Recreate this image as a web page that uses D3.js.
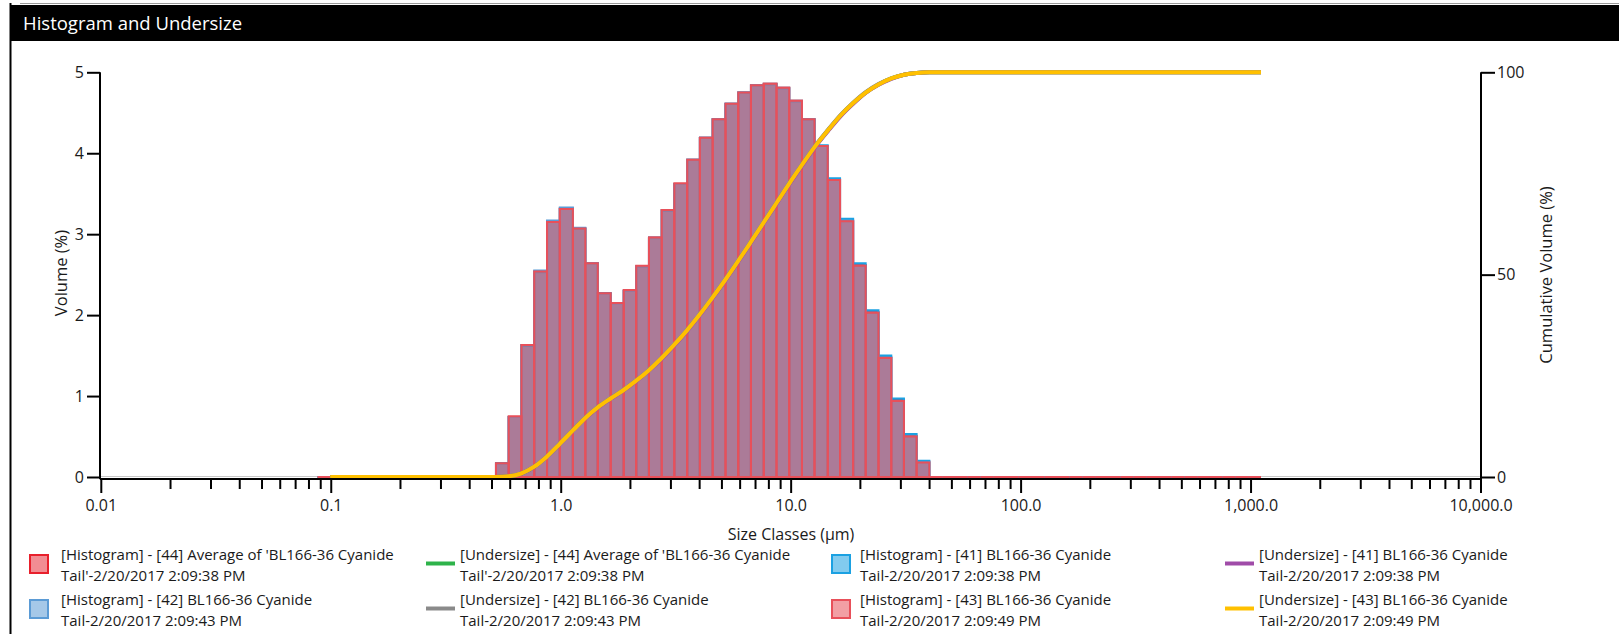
<!DOCTYPE html>
<html>
<head>
<meta charset="utf-8">
<script src="https://cdn.jsdelivr.net/npm/d3@7"></script>
<style>
  html, body { margin: 0; padding: 0; background: #fff; }
  svg { display: block; }
  text { font-family: "Segoe UI", "Open Sans", sans-serif; fill: #1a1a1a; }
</style>
</head>
<body>
<svg id="chart" width="1619" height="634"></svg>
<script>
// ---------------- DATA ----------------
const chartTitle = "Histogram and Undersize";
const xAxisTitle = "Size Classes (\u00b5m)";
const yLeftTitle = "Volume (%)";
const yRightTitle = "Cumulative Volume (%)";

// size class edges (\u00b5m)
const sizeClasses = [0.0876, 0.0995, 0.113, 0.128, 0.146, 0.166, 0.188, 0.214, 0.243, 0.276,
  0.314, 0.357, 0.405, 0.460, 0.523, 0.594, 0.675, 0.767, 0.872, 0.991,
  1.13, 1.28, 1.45, 1.65, 1.88, 2.13, 2.42, 2.75, 3.12, 3.55,
  4.03, 4.58, 5.21, 5.92, 6.72, 7.64, 8.68, 9.86, 11.2, 12.7,
  14.5, 16.4, 18.7, 21.2, 24.1, 27.4, 31.1, 35.3, 40.1, 45.6,
  51.8, 58.9, 66.9, 76.0, 86.4, 98.1, 111, 127, 144, 163,
  186, 211, 240, 272, 310, 352, 400, 454, 516, 586,
  666, 756, 859, 976, 1110];

// histogram values (volume %), one per class between consecutive edges
const hist44 = [0,0,0,0,0,0,0,0,0,0,0,0,0,0,
  0.17, 0.74, 1.63, 2.54, 3.16, 3.32, 3.07, 2.64, 2.27, 2.15, 2.30, 2.60, 2.96, 3.30, 3.62, 3.92, 4.19,
  4.42, 4.61, 4.75, 4.84, 4.86, 4.81, 4.65, 4.42, 4.09, 3.68, 3.17, 2.62, 2.04, 1.48, 0.95, 0.51, 0.19,
  0,0,0,0,0,0,0,0,0,0,0,0,0,0,0,0,0,0,0,0,0,0,0,0,0,0];
const hist41 = [0,0,0,0,0,0,0,0,0,0,0,0,0,0,
  0.17, 0.74, 1.62, 2.53, 3.15, 3.31, 3.07, 2.64, 2.27, 2.15, 2.30, 2.60, 2.95, 3.29, 3.62, 3.92, 4.19,
  4.42, 4.61, 4.75, 4.84, 4.85, 4.80, 4.64, 4.42, 4.10, 3.69, 3.19, 2.64, 2.06, 1.50, 0.97, 0.53, 0.20,
  0,0,0,0,0,0,0,0,0,0,0,0,0,0,0,0,0,0,0,0,0,0,0,0,0,0];
const hist42 = [0,0,0,0,0,0,0,0,0,0,0,0,0,0,
  0.16, 0.74, 1.63, 2.55, 3.17, 3.33, 3.08, 2.64, 2.26, 2.14, 2.30, 2.60, 2.96, 3.30, 3.62, 3.92, 4.19,
  4.42, 4.61, 4.75, 4.84, 4.86, 4.81, 4.65, 4.42, 4.09, 3.67, 3.16, 2.61, 2.03, 1.47, 0.94, 0.50, 0.18,
  0,0,0,0,0,0,0,0,0,0,0,0,0,0,0,0,0,0,0,0,0,0,0,0,0,0];
const hist43 = [0,0,0,0,0,0,0,0,0,0,0,0,0,0,
  0.17, 0.75, 1.63, 2.54, 3.15, 3.31, 3.07, 2.64, 2.27, 2.15, 2.31, 2.61, 2.96, 3.30, 3.63, 3.92, 4.19,
  4.42, 4.61, 4.75, 4.84, 4.86, 4.81, 4.65, 4.42, 4.09, 3.67, 3.16, 2.61, 2.03, 1.47, 0.94, 0.50, 0.18,
  0,0,0,0,0,0,0,0,0,0,0,0,0,0,0,0,0,0,0,0,0,0,0,0,0,0];

// undersize (cumulative %), one per edge from 0.0995 to 1110
const under44 = [0,0,0,0,0,0,0,0,0,0,0,0,0,0,
  0.17, 0.91, 2.54, 5.08, 8.2, 11.5, 14.6, 17.2, 19.4, 21.5, 23.8, 26.4, 29.4, 32.7, 36.3, 40.2,
  44.4, 48.8, 53.4, 58.1, 62.9, 67.7, 72.5, 77.1, 81.5, 85.6, 89.2, 92.4, 95.0, 97.0, 98.5, 99.4, 99.85, 100,
  100,100,100,100,100,100,100,100,100,100,100,100,100,100,100,100,100,100,100,100,100,100,100,100,100,100];
const under41 = [0,0,0,0,0,0,0,0,0,0,0,0,0,0,
  0.17, 0.91, 2.53, 5.06, 8.2, 11.5, 14.5, 17.1, 19.3, 21.4, 23.7, 26.3, 29.2, 32.5, 36.1, 40.0,
  44.2, 48.6, 53.2, 57.9, 62.7, 67.5, 72.3, 76.9, 81.3, 85.4, 89.0, 92.2, 94.9, 96.9, 98.4, 99.4, 99.85, 100,
  100,100,100,100,100,100,100,100,100,100,100,100,100,100,100,100,100,100,100,100,100,100,100,100,100,100];
const under42 = [0,0,0,0,0,0,0,0,0,0,0,0,0,0,
  0.16, 0.90, 2.55, 5.10, 8.3, 11.6, 14.7, 17.3, 19.5, 21.6, 23.9, 26.5, 29.5, 32.8, 36.4, 40.3,
  44.5, 48.9, 53.5, 58.2, 63.0, 67.8, 72.6, 77.2, 81.6, 85.7, 89.3, 92.5, 95.1, 97.1, 98.5, 99.4, 99.85, 100,
  100,100,100,100,100,100,100,100,100,100,100,100,100,100,100,100,100,100,100,100,100,100,100,100,100,100];
const under43 = [0,0,0,0,0,0,0,0,0,0,0,0,0,0,
  0.17, 0.92, 2.55, 5.09, 8.2, 11.5, 14.6, 17.2, 19.4, 21.5, 23.8, 26.4, 29.4, 32.7, 36.3, 40.2,
  44.4, 48.8, 53.4, 58.1, 62.9, 67.7, 72.5, 77.1, 81.5, 85.6, 89.2, 92.4, 95.0, 97.0, 98.5, 99.4, 99.85, 100,
  100,100,100,100,100,100,100,100,100,100,100,100,100,100,100,100,100,100,100,100,100,100,100,100,100,100];

const xTickValues = [0.01, 0.1, 1, 10, 100, 1000, 10000];
const xTickLabels = ["0.01", "0.1", "1.0", "10.0", "100.0", "1,000.0", "10,000.0"];
const yLeftTicks = [0, 1, 2, 3, 4, 5];
const yRightTicks = [0, 50, 100];

const histNames = [
  ["[Histogram] - [44] Average of 'BL166-36 Cyanide", "Tail'-2/20/2017 2:09:38 PM"],
  ["[Histogram] - [41] BL166-36 Cyanide", "Tail-2/20/2017 2:09:38 PM"],
  ["[Histogram] - [42] BL166-36 Cyanide", "Tail-2/20/2017 2:09:43 PM"],
  ["[Histogram] - [43] BL166-36 Cyanide", "Tail-2/20/2017 2:09:49 PM"]
];
const underNames = [
  ["[Undersize] - [44] Average of 'BL166-36 Cyanide", "Tail'-2/20/2017 2:09:38 PM"],
  ["[Undersize] - [41] BL166-36 Cyanide", "Tail-2/20/2017 2:09:38 PM"],
  ["[Undersize] - [42] BL166-36 Cyanide", "Tail-2/20/2017 2:09:43 PM"],
  ["[Undersize] - [43] BL166-36 Cyanide", "Tail-2/20/2017 2:09:49 PM"]
];

// ---------------- STYLE ----------------
const histStyles = [
  { fill: "#e8303a", stroke: "#e8202c" },
  { fill: "#1ba1e2", stroke: "#1ba1e2" },
  { fill: "#5b9bd5", stroke: "#5b9bd5" },
  { fill: "#e8505a", stroke: "#e8505a" }
];
const underColors = ["#2eb34a", "#a04ca8", "#8a8a8a", "#ffc000"];
const histFillOpacity = 0.45;

// ---------------- DRAW ----------------
const svg = d3.select("#chart");
const W = 1619, H = 634;
svg.append("rect").attr("width", W).attr("height", H).attr("fill", "#fff");

// frame + title bar
svg.append("line").attr("x1", 20).attr("x2", W).attr("y1", 3.5).attr("y2", 3.5)
  .attr("stroke", "#9a9a9a").attr("stroke-width", 1);
svg.append("rect").attr("x", 10).attr("y", 5).attr("width", W - 10).attr("height", 36).attr("fill", "#000");
svg.append("line").attr("x1", 10.5).attr("x2", 10.5).attr("y1", 3).attr("y2", H)
  .attr("stroke", "#000").attr("stroke-width", 2);
svg.append("text").attr("x", 23).attr("y", 29.5).style("fill", "#fff")
  .style("font-size", "18.5px").text(chartTitle);

const plotL = 100.8, plotR = 1480.5, y0 = 477, yTop = 72.3;
const x = d3.scaleLog().domain([0.01, 10000]).range([plotL, plotR]);
const yL = d3.scaleLinear().domain([0, 5]).range([y0, yTop]);
const yR = d3.scaleLinear().domain([0, 100]).range([y0, yTop]);

// light baseline
svg.append("line").attr("x1", plotL).attr("x2", plotR).attr("y1", y0 - 0.5).attr("y2", y0 - 0.5)
  .attr("stroke", "#c8c8c8").attr("stroke-width", 1);

// histograms
const histSeries = [hist44, hist41, hist42, hist43];
histSeries.forEach((vals, si) => {
  const g = svg.append("g");
  const bins = vals.map((v, i) => ({ x0: sizeClasses[i], x1: sizeClasses[i + 1], v }));
  g.selectAll("path").data(bins).join("path")
    .attr("d", d => {
      const a = x(d.x0), b = x(d.x1), t = yL(d.v);
      return `M${a},${y0}V${t}H${b}V${y0}Z`;
    })
    .attr("fill", histStyles[si].fill)
    .attr("fill-opacity", histFillOpacity)
    .attr("stroke", histStyles[si].stroke)
    .attr("stroke-width", 2)
    .attr("stroke-linejoin", "miter");
});

// undersize lines
const underSeries = [under44, under41, under42, under43];
const line = d3.line()
  .x((d, i) => x(sizeClasses[i + 1]))
  .y(d => yR(d))
  .curve(d3.curveMonotoneX);
underSeries.forEach((vals, si) => {
  svg.append("path").attr("d", line(vals))
    .attr("fill", "none")
    .attr("stroke", underColors[si])
    .attr("stroke-width", 4)
    .attr("stroke-linejoin", "round");
});

// axes
const tickFont = "16px";
const gL = svg.append("g").attr("transform", `translate(100,0)`)
  .call(d3.axisLeft(yL).tickValues(yLeftTicks).tickSize(13).tickSizeOuter(0).tickPadding(3).tickFormat(d3.format("d")));
const gR = svg.append("g").attr("transform", `translate(1481,0)`)
  .call(d3.axisRight(yR).tickValues(yRightTicks).tickSize(14).tickSizeOuter(0).tickPadding(2).tickFormat(d3.format("d")));

const minorVals = [];
for (let e = -2; e < 4; e++) for (let m = 2; m <= 9; m++) minorVals.push(m * Math.pow(10, e));
const gXm = svg.append("g").attr("transform", `translate(0,479)`)
  .call(d3.axisBottom(x).tickValues(minorVals).tickSize(10).tickSizeOuter(0).tickFormat(""));
const gX = svg.append("g").attr("transform", `translate(0,479)`)
  .call(d3.axisBottom(x).tickValues(xTickValues).tickSize(14).tickSizeOuter(0).tickPadding(7)
    .tickFormat((d, i) => xTickLabels[i]));

[gL, gR, gX, gXm].forEach(g => {
  g.selectAll(".domain").attr("stroke", "#000").attr("stroke-width", 2);
  g.selectAll(".tick line").attr("stroke", "#000").attr("stroke-width", 2);
  g.selectAll(".tick text").style("font-size", tickFont).style("font-family", "'Segoe UI','Open Sans',sans-serif").attr("fill", "#1a1a1a");
});
gXm.select(".domain").remove();
gL.select(".domain").attr("d", `M0,${yTop}V${y0 + 2}`);
gR.select(".domain").attr("d", `M0,${yTop}V${y0 + 2}`);
gX.select(".domain").attr("d", `M${plotL - 1},0H${plotR + 1}`);

// axis titles
svg.append("text").attr("x", 791).attr("y", 540).attr("text-anchor", "middle")
  .style("font-size", "16px").text(xAxisTitle);
svg.append("text").attr("transform", "translate(67,273) rotate(-90)").attr("text-anchor", "middle")
  .style("font-size", "16.5px").text(yLeftTitle);
svg.append("text").attr("transform", "translate(1552,275) rotate(-90)").attr("text-anchor", "middle")
  .style("font-size", "16.5px").text(yRightTitle);

// legend
const legendItems = [
  { type: "hist", idx: 0, col: 0, row: 0, names: histNames[0] },
  { type: "line", idx: 0, col: 1, row: 0, names: underNames[0] },
  { type: "hist", idx: 1, col: 2, row: 0, names: histNames[1] },
  { type: "line", idx: 1, col: 3, row: 0, names: underNames[1] },
  { type: "hist", idx: 2, col: 0, row: 1, names: histNames[2] },
  { type: "line", idx: 2, col: 1, row: 1, names: underNames[2] },
  { type: "hist", idx: 3, col: 2, row: 1, names: histNames[3] },
  { type: "line", idx: 3, col: 3, row: 1, names: underNames[3] }
];
const colX = [29, 426, 831, 1225];
const textX = [61, 460, 860, 1259];
const rowY = [554, 599];
const lg = svg.append("g");
legendItems.forEach(it => {
  const yTopRow = rowY[it.row];
  if (it.type === "hist") {
    lg.append("rect").attr("x", colX[it.col] + 1).attr("y", yTopRow + 1).attr("width", 18).attr("height", 18)
      .attr("fill", histStyles[it.idx].fill).attr("fill-opacity", 0.55)
      .attr("stroke", histStyles[it.idx].stroke).attr("stroke-width", 2);
  } else {
    lg.append("line").attr("x1", colX[it.col]).attr("x2", colX[it.col] + 29)
      .attr("y1", yTopRow + 9.5).attr("y2", yTopRow + 9.5)
      .attr("stroke", underColors[it.idx]).attr("stroke-width", 4);
  }
  it.names.forEach((t, k) => {
    lg.append("text").attr("x", textX[it.col]).attr("y", yTopRow + 6 + k * 20.5)
      .style("font-size", "15px").text(t);
  });
});
</script>
</body>
</html>
